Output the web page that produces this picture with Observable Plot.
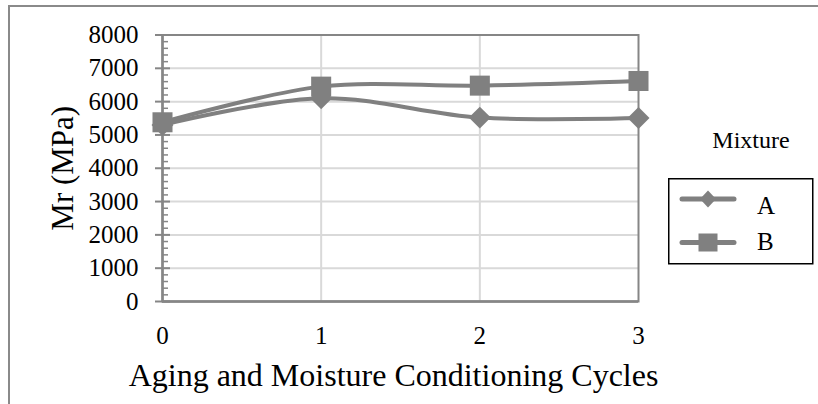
<!DOCTYPE html>
<html>
<head>
<meta charset="utf-8">
<script src="https://cdn.jsdelivr.net/npm/d3@7"></script>
<script src="https://cdn.jsdelivr.net/npm/@observablehq/plot@0.6"></script>
<style>
  html, body { margin: 0; padding: 0; background: #fff; }
  #wrap { position: relative; width: 818px; height: 404px; overflow: hidden; font-family: "Liberation Serif", serif; }
  #outer { position: absolute; left: 7.5px; top: 4.5px; right: -10px; bottom: -10px; border-top: 2px solid #8a8a8a; border-left: 2px solid #8a8a8a; pointer-events: none; }
  #legend { position: absolute; left: 668px; top: 120px; }
</style>
</head>
<body>
<div id="wrap">
  <div id="outer"></div>
</div>
<script>
// ---- data ----
const cycles = [0, 1, 2, 3];
const mixtureA = [5300, 6100, 5520, 5510];
const mixtureB = [5380, 6450, 6480, 6620];
const seriesNames = ["A", "B"];
const yTicks = [0, 1000, 2000, 3000, 4000, 5000, 6000, 7000, 8000];
const yMinorTicks = d3.range(0, 8001, 200).filter(v => v % 1000 !== 0);
const xTicks = [0, 1, 2, 3];
const xTitle = "Aging and Moisture Conditioning Cycles";
const yTitle = "Mr (MPa)";
const legendTitle = "Mixture";

const rowsA = cycles.map((c, i) => ({cycle: c, mr: mixtureA[i], series: seriesNames[0]}));
const rowsB = cycles.map((c, i) => ({cycle: c, mr: mixtureB[i], series: seriesNames[1]}));

const gray = "#808080";
const axisGray = "#868686";
const serif = "Liberation Serif, serif";

const chart = Plot.plot({
  width: 818,
  height: 404,
  marginLeft: 162,
  marginRight: 180,
  marginTop: 34.5,
  marginBottom: 103,
  style: {fontFamily: serif, background: "transparent", color: "#000", overflow: "visible"},
  x: {domain: [0, 3]},
  y: {domain: [0, 8000]},
  marks: [
    Plot.gridY(yTicks, {stroke: "#d9d9d9", strokeOpacity: 1, strokeWidth: 2}),
    Plot.gridX([1, 2], {stroke: "#d9d9d9", strokeOpacity: 1, strokeWidth: 2}),
    Plot.frame({stroke: axisGray, strokeWidth: 2}),
    Plot.axisY(yTicks, {tickSize: 7, tickPadding: 17, fontSize: 25, stroke: axisGray, strokeWidth: 2, label: null, tickFormat: d => String(d)}),
    Plot.axisY(yTicks, {tickSize: -8, text: null, stroke: axisGray, strokeWidth: 2, label: null}),
    Plot.axisY(yMinorTicks, {tickSize: -6, text: null, stroke: axisGray, strokeWidth: 1.5, label: null}),
    Plot.axisX(xTicks, {tickSize: 0, tickPadding: 25, fontSize: 25, label: null, tickFormat: d => String(d)}),
    Plot.ruleX([0], {stroke: axisGray, strokeWidth: 2.5}),
    Plot.ruleY([0], {stroke: axisGray, strokeWidth: 2.5}),
    Plot.text([yTitle], {frameAnchor: "left", textAnchor: "middle", lineAnchor: "middle", dx: -99, rotate: -90, fontSize: 31, fill: "#000"}),
    Plot.text([xTitle], {frameAnchor: "bottom", textAnchor: "middle", lineAnchor: "middle", dy: 74, dx: -7, fontSize: 32, fill: "#000"}),
    Plot.line(rowsA, {x: "cycle", y: "mr", curve: "catmull-rom", stroke: gray, strokeWidth: 4}),
    Plot.dot(rowsA, {x: "cycle", y: "mr", symbol: "diamond2", r: 9.9, fill: gray, stroke: "none"}),
    Plot.line(rowsB, {x: "cycle", y: "mr", curve: "catmull-rom", stroke: gray, strokeWidth: 4}),
    Plot.dot(rowsB, {x: "cycle", y: "mr", symbol: "square", r: 11.3, fill: gray, stroke: "none"})
  ]
});
chart.style.position = "absolute";
chart.style.left = "0px";
chart.style.top = "0px";
const wrap = document.getElementById("wrap");
wrap.appendChild(chart);

// legend (title + box)
const ns = "http://www.w3.org/2000/svg";
const lg = document.createElementNS(ns, "svg");
lg.setAttribute("id", "legend");
lg.setAttribute("width", "150");
lg.setAttribute("height", "146");
lg.innerHTML = `
  <text x="83" y="27.5" text-anchor="middle" font-size="24" font-family="${serif}" fill="#000">${legendTitle}</text>
  <g transform="translate(0,58)">
  <rect x="0.75" y="0.75" width="144" height="85" fill="#fff" stroke="#000" stroke-width="1.5"/>
  <line x1="14" x2="66" y1="21" y2="21" stroke="${gray}" stroke-width="5" stroke-linecap="round"/>
  <path d="M40,12.5 L48,21 L40,29.5 L32,21 Z" fill="${gray}"/>
  <line x1="14" x2="66" y1="64.5" y2="64.5" stroke="${gray}" stroke-width="5" stroke-linecap="round"/>
  <rect x="30.5" y="55.5" width="19" height="18" fill="${gray}"/>
  <text x="89" y="36" font-size="25" font-family="${serif}" fill="#000">${seriesNames[0]}</text>
  <text x="89" y="72" font-size="25" font-family="${serif}" fill="#000">${seriesNames[1]}</text>
  </g>
`;
wrap.appendChild(lg);
</script>
</body>
</html>
